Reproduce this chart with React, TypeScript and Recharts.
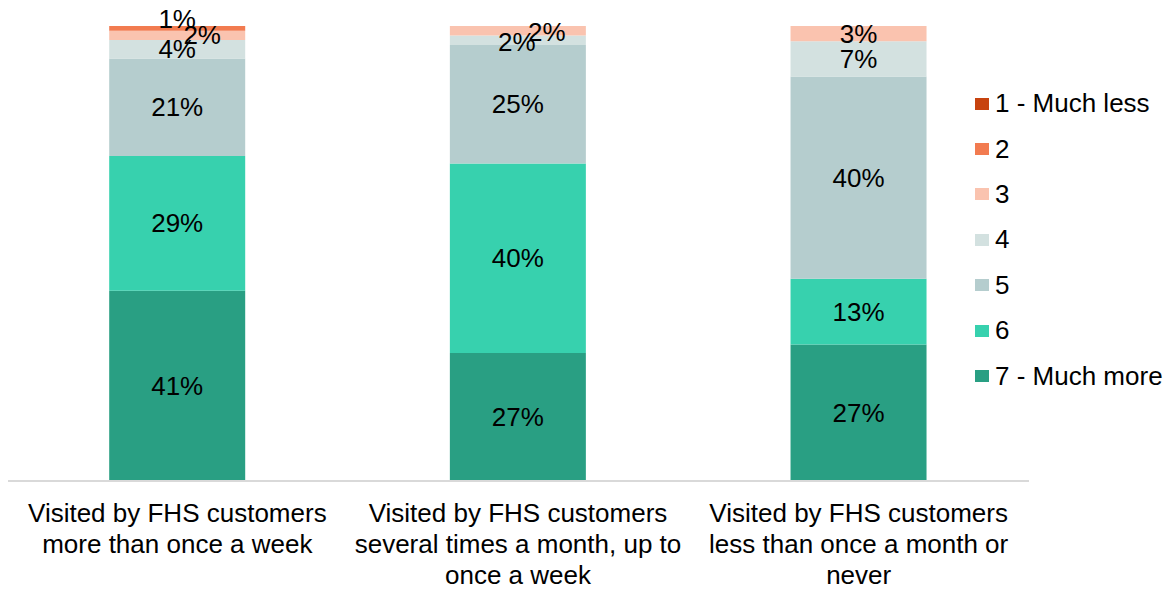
import React from "react";
import { BarChart, Bar, XAxis, YAxis } from "recharts";

// visit-frequency groups, one bar each
const groups = [
  ["Visited by FHS customers", "more than once a week"],
  ["Visited by FHS customers", "several times a month, up to", "once a week"],
  ["Visited by FHS customers", "less than once a month or", "never"],
];

// shares per answer (%), one value per group
const much_less = [0, 0, 0];
const two = [1, 0, 0];
const three = [2, 2, 3];
const four = [4, 2, 7];
const five = [21, 25, 40];
const six = [29, 40, 13];
const much_more = [41, 27, 27];

const seriesNames = ["1 - Much less", "2", "3", "4", "5", "6", "7 - Much more"];
const seriesValues = [much_less, two, three, four, five, six, much_more];
const seriesColors = ["#C7430F", "#F27B50", "#FAC3AF", "#D3E1E0", "#B5CDCE", "#37D1AE", "#299F83"];

const rows = groups.map((g, i) => {
  const row: Record<string, any> = { name: g.join(" ") };
  seriesValues.forEach((vals, s) => (row["s" + s] = vals[i]));
  return row;
});

// a few small labels are shifted so they don't sit on top of each other
const nudges: Record<string, [number, number]> = {
  "0-1": [0, -9],
  "0-2": [25, 0],
  "1-2": [29, 1],
  "1-3": [-1, 2],
};

const FONT = "Liberation Sans, Arial, sans-serif";
const FS = 26;

function makeLabel(s: number) {
  return (p: any) => {
    const i = p.index;
    const v = rows[i]?.["s" + s];
    if (!v) return null;
    const [dx, dy] = nudges[i + "-" + s] || [0, 0];
    return (
      <text
        key={"l" + s + "-" + i}
        x={p.x + p.width / 2 + dx}
        y={p.y + p.height / 2 + dy}
        textAnchor="middle"
        dominantBaseline="central"
        fontSize={FS}
        fontFamily={FONT}
        fill="#000"
      >
        {v}%
      </text>
    );
  };
}

function GroupTick(props: any) {
  const { x, y, index } = props;
  const lines: string[] = groups[index] || [];
  return (
    <text x={x} y={y} textAnchor="middle" fontSize={FS} fontFamily={FONT} fill="#000">
      {lines.map((l, k) => (
        <tspan key={k} x={x} dy={k === 0 ? 33 : 31}>
          {l}
        </tspan>
      ))}
    </text>
  );
}

export default function App() {
  const order = [6, 5, 4, 3, 2, 1, 0];
  return (
    <div style={{ position: "relative", width: 1166, height: 582, background: "#fff" }}>
      <BarChart
        width={1166}
        height={582}
        data={rows}
        stackOffset="expand"
        barCategoryGap="30%"
        style={{ overflow: "visible" }}
        margin={{ top: 18, right: 145, bottom: 0, left: -1 }}
      >
        <XAxis
          dataKey="name"
          height={109}
          tickLine={false}
          axisLine={{ stroke: "#D9D9D9", strokeWidth: 2 }}
          tick={<GroupTick />}
          interval={0}
        />
        <YAxis hide domain={[0, 1]} />
        {order.map((s) => (
          <Bar
            key={s}
            dataKey={"s" + s}
            stackId="a"
            fill={seriesColors[s]}
            isAnimationActive={false}
            label={makeLabel(s)}
          />
        ))}
      </BarChart>
      <div style={{ position: "absolute", left: 967, top: 73, fontFamily: FONT, fontSize: FS, color: "#000" }}>
        {seriesNames.map((n, s) => (
          <div key={n} style={{ display: "flex", alignItems: "center", height: 45.4, whiteSpace: "nowrap" }}>
            <span style={{ width: 14, height: 12, background: seriesColors[s], marginRight: 6, display: "inline-block" }} />
            {n}
          </div>
        ))}
      </div>
    </div>
  );
}
